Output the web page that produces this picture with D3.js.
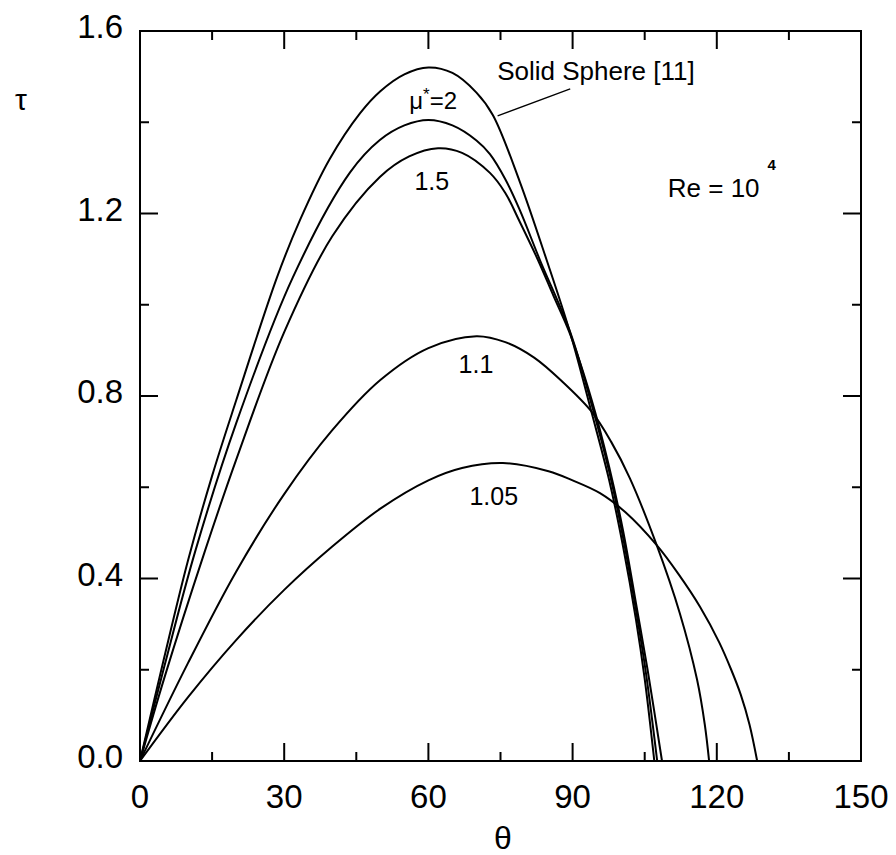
<!DOCTYPE html>
<html>
<head>
<meta charset="utf-8">
<script src="https://cdn.jsdelivr.net/npm/d3@7"></script>
<style>
  body { margin: 0; background: #fff; }
  text { font-family: "Liberation Sans", Arial, sans-serif; fill: #000; }
</style>
</head>
<body>
<div id="chart"></div>
<script>
// curves: [theta (deg), tau]
const solidSphere = [[0,0],[5,0.225],[10,0.44],[15,0.625],[20,0.79],[28.5,1.06],[33.3,1.186],[39.5,1.32],[45.8,1.42],[50,1.468],[55,1.505],[60,1.52],[65,1.508],[70,1.465],[73.4,1.416],[79,1.27],[84.6,1.098],[89.5,0.938],[94,0.762],[97.6,0.616],[100.5,0.47],[103.2,0.309],[105,0.18],[107,0]];
const mu2 = [[0,0],[5,0.205],[11.5,0.46],[20,0.74],[31.8,1.06],[43.7,1.29],[49.9,1.361],[55,1.393],[60,1.405],[65,1.393],[70,1.36],[72.8,1.33],[76,1.275],[79,1.208],[83.2,1.098],[89.5,0.94],[94,0.78],[97.6,0.635],[100.5,0.49],[103.2,0.33],[105.3,0.19],[107.6,0]];
const mu15 = [[0,0],[5,0.18],[13.5,0.46],[20,0.66],[30,0.94],[40,1.15],[49.9,1.28],[56,1.325],[62,1.343],[67,1.333],[72.8,1.289],[76,1.245],[79,1.182],[82.8,1.098],[86,1.02],[89.5,0.935],[94,0.79],[97.6,0.645],[100.5,0.505],[103.2,0.345],[105.6,0.2],[108.6,0]];
const mu11 = [[0,0],[10,0.215],[20,0.415],[30,0.585],[40,0.725],[50,0.835],[60,0.905],[70,0.931],[76,0.918],[82,0.884],[88,0.83],[94,0.765],[98,0.7],[101.9,0.62],[107.5,0.473],[112.3,0.324],[115.9,0.178],[117.5,0.08],[118.4,0]];
const mu105 = [[0,0],[10,0.14],[20,0.265],[30,0.375],[40,0.47],[50,0.553],[60,0.615],[67,0.642],[75.5,0.653],[85,0.635],[90,0.615],[95.7,0.587],[101,0.545],[107.5,0.473],[112,0.41],[116.5,0.338],[120.5,0.26],[123,0.2],[125,0.145],[126.8,0.08],[128.4,0]];

const xTicks = [0, 30, 60, 90, 120, 150];
const yTicks = [0, 0.4, 0.8, 1.2, 1.6];
const xMinor = [15, 45, 75, 105, 135];
const yMinor = [0.2, 0.6, 1.0, 1.4];

const curves = [solidSphere, mu2, mu15, mu11, mu105];

const W = 896, H = 855;
const margin = { top: 31, right: 35, bottom: 94, left: 140 };
const width = W - margin.left - margin.right;
const height = H - margin.top - margin.bottom;

const svg = d3.select("#chart").append("svg")
    .attr("width", W).attr("height", H);
const g = svg.append("g").attr("transform", `translate(${margin.left},${margin.top})`);

const x = d3.scaleLinear().domain([0, 150]).range([0, width]);
const y = d3.scaleLinear().domain([0, 1.6]).range([height, 0]);

// ticks on all four sides, pointing inward
function tickMarks(vals, len, horizontal) {
    vals.forEach(v => {
        if (horizontal) {
            g.append("line").attr("x1", x(v)).attr("x2", x(v)).attr("y1", height).attr("y2", height - len);
            g.append("line").attr("x1", x(v)).attr("x2", x(v)).attr("y1", 0).attr("y2", len);
        } else {
            g.append("line").attr("x1", 0).attr("x2", len).attr("y1", y(v)).attr("y2", y(v));
            g.append("line").attr("x1", width).attr("x2", width - len).attr("y1", y(v)).attr("y2", y(v));
        }
    });
}
tickMarks(xTicks, 18, true);
tickMarks(xMinor, 9, true);
tickMarks(yTicks, 18, false);
tickMarks(yMinor, 9, false);
g.selectAll("line").attr("stroke", "#000").attr("stroke-width", 2);

g.append("rect").attr("width", width).attr("height", height)
    .attr("fill", "none").attr("stroke", "#000").attr("stroke-width", 2);

// tick labels
g.selectAll(".xl").data(xTicks).join("text")
    .attr("x", d => x(d)).attr("y", height + 47)
    .attr("text-anchor", "middle").style("font-size", "33px")
    .text(d => d);
g.selectAll(".yl").data(yTicks).join("text")
    .attr("x", -17).attr("y", d => y(d) + 7)
    .attr("text-anchor", "end").style("font-size", "33px")
    .text(d => d.toFixed(1));

// axis titles
svg.append("text").attr("x", 21).attr("y", 110).attr("text-anchor", "middle")
    .style("font-size", "30px").text("τ");
svg.append("text").attr("x", 503).attr("y", 849).attr("text-anchor", "middle")
    .style("font-size", "32px").text("θ");

const line = d3.line()
    .x(d => x(d[0]))
    .y(d => y(d[1]))
    .curve(d3.curveCatmullRom.alpha(0.5));

g.selectAll(".curve").data(curves).join("path")
    .attr("class", "curve")
    .attr("fill", "none")
    .attr("stroke", "#000")
    .attr("stroke-width", 2)
    .attr("d", line);

// annotations
g.append("text").attr("x", x(74.3)).attr("y", y(1.4925))
    .style("font-size", "26px").text("Solid Sphere [11]");
g.append("line")
    .attr("x1", x(74.4)).attr("y1", y(1.414))
    .attr("x2", x(89.5)).attr("y2", y(1.473))
    .attr("stroke", "#000").attr("stroke-width", 1.3);

const mu = g.append("text").attr("x", x(61)).attr("y", y(1.43))
    .attr("text-anchor", "middle").style("font-size", "24px");
mu.append("tspan").text("μ");
mu.append("tspan").attr("dy", -9).style("font-size", "17px").text("*");
mu.append("tspan").attr("dy", 9).text("=2");

g.append("text").attr("x", x(60.7)).attr("y", y(1.251))
    .attr("text-anchor", "middle").style("font-size", "25px").text("1.5");
g.append("text").attr("x", x(69.9)).attr("y", y(0.85))
    .attr("text-anchor", "middle").style("font-size", "25px").text("1.1");
g.append("text").attr("x", x(73.6)).attr("y", y(0.561))
    .attr("text-anchor", "middle").style("font-size", "25px").text("1.05");

const re = g.append("text").attr("x", x(109.8)).attr("y", y(1.236))
    .style("font-size", "26px");
re.append("tspan").text("Re = 10");
re.append("tspan").attr("dx", 8).attr("dy", -27).style("font-size", "15px")
    .style("font-weight", "bold").text("4");
</script>
</body>
</html>
